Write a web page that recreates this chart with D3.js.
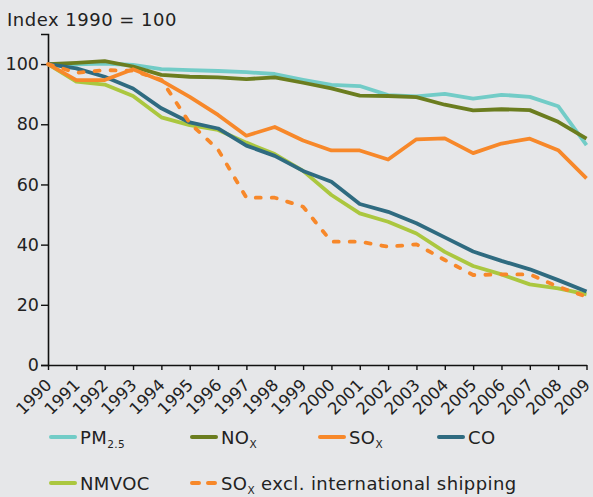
<!DOCTYPE html>
<html>
<head>
<meta charset="utf-8">
<script src="https://cdn.jsdelivr.net/npm/d3@7"></script>
<style>
  body { margin: 0; background: #e6e7e9; }
  svg { display: block; font-family: "DejaVu Sans", Verdana, sans-serif; }
</style>
</head>
<body>
<script>
// years and index values (1990 = 100)
const years = d3.range(1990, 2010);
const pm25  = [100, 99.9, 100.2, 99.7, 98.3, 98.0, 97.7, 97.3, 96.7, 94.8, 93.1, 92.7, 89.7, 89.3, 90.1, 88.5, 89.8, 89.1, 86.0, 73.1];
const nox   = [100, 100.4, 101.0, 99.2, 96.4, 95.8, 95.6, 95.0, 95.6, 93.8, 91.9, 89.5, 89.4, 89.0, 86.5, 84.6, 85.0, 84.7, 80.8, 75.2];
const sox   = [100, 94.7, 94.7, 98.3, 94.5, 89.1, 83.1, 76.2, 79.1, 74.6, 71.3, 71.3, 68.3, 75.0, 75.3, 70.4, 73.6, 75.2, 71.4, 62.0];
const co    = [100, 98.6, 95.8, 91.9, 85.3, 80.6, 78.6, 72.9, 69.5, 64.5, 60.9, 53.5, 50.9, 47.1, 42.4, 37.7, 34.6, 31.8, 28.2, 24.4];
const nmvoc = [100, 94.2, 93.2, 89.4, 82.3, 79.7, 78.1, 73.9, 70.1, 64.5, 56.5, 50.4, 47.6, 43.7, 37.6, 32.9, 30.1, 26.8, 25.5, 23.5];
const soxExShip = [100, 97.1, 98.0, 97.8, 94.8, 80.4, 71.6, 55.6, 55.6, 52.6, 41.0, 41.0, 39.3, 40.1, 34.9, 29.9, 30.1, 30.1, 26.0, 22.7];
const yTicks = [0, 20, 40, 60, 80, 100];

const series = [
  {key: "pm",    values: pm25,      color: "#72ccc7", dash: null},
  {key: "nox",   values: nox,       color: "#6b7d1f", dash: null},
  {key: "nmvoc", values: nmvoc,     color: "#abc73f", dash: null},
  {key: "co",    values: co,        color: "#2f6b80", dash: null},
  {key: "sox",   values: sox,       color: "#f7882a", dash: null},
  {key: "soxx",  values: soxExShip, color: "#f7882a", dash: "5,11"}
];

const w = 593, h = 497;
const svg = d3.select("body").append("svg").attr("width", w).attr("height", h);

svg.append("rect").attr("width", w).attr("height", h).attr("fill", "#e6e7e9");

const x = d3.scaleLinear().domain([1990, 2009]).range([48, 586.5]);
const y = d3.scaleLinear().domain([0, 110]).range([365, 34]);

svg.append("text")
  .attr("x", 7).attr("y", 26)
  .attr("font-size", 18).attr("letter-spacing", 0.5).attr("fill", "#222")
  .text("Index 1990 = 100");

// y axis
const yAxis = svg.append("g")
  .attr("transform", "translate(48,0)")
  .call(d3.axisLeft(y).tickValues(yTicks).tickSize(7).tickPadding(2));
yAxis.select(".domain").attr("stroke", "#111").attr("stroke-width", 1.6);
yAxis.selectAll(".tick line").attr("stroke", "#111").attr("stroke-width", 1.4);
yAxis.selectAll(".tick text")
  .attr("font-size", 17.5).attr("fill", "#222")
  .attr("font-family", "DejaVu Sans, Verdana, sans-serif");

// x axis
const xAxis = svg.append("g")
  .attr("transform", "translate(0,365)")
  .call(d3.axisBottom(x).tickValues(years).tickFormat(d3.format("d")).tickSizeInner(5).tickSizeOuter(0));
xAxis.select(".domain").attr("stroke", "#111").attr("stroke-width", 1.6);
xAxis.selectAll(".tick line").attr("stroke", "#111").attr("stroke-width", 1.4);
xAxis.selectAll(".tick text")
  .attr("font-size", 16.5).attr("fill", "#222")
  .attr("font-family", "DejaVu Sans, Verdana, sans-serif")
  .attr("text-anchor", "end")
  .attr("x", 0).attr("y", 0).attr("dy", "0.35em")
  .attr("transform", "translate(0,17) rotate(-45)");

const line = d3.line()
  .x((d, i) => x(years[i]))
  .y(d => y(d));

svg.selectAll(".series")
  .data(series)
  .enter().append("path")
  .attr("class", "series")
  .attr("d", d => line(d.values))
  .attr("fill", "none")
  .attr("stroke", d => d.color)
  .attr("stroke-width", 3.8)
  .attr("stroke-linejoin", "round")
  .attr("stroke-linecap", d => d.dash ? "round" : "butt")
  .attr("stroke-dasharray", d => d.dash);

// legend
const legendItems = [
  {name: "PM", sub: "2.5", color: "#72ccc7", dash: null, x: 49, y: 437},
  {name: "NO", sub: "X",   color: "#6b7d1f", dash: null, x: 190, y: 437},
  {name: "SO", sub: "X",   color: "#f7882a", dash: null, x: 318, y: 437},
  {name: "CO", sub: "",    color: "#2f6b80", dash: null, x: 437, y: 437},
  {name: "NMVOC", sub: "", color: "#abc73f", dash: null, x: 49, y: 483},
  {name: "SO", sub: "X", rest: " excl. international shipping", color: "#f7882a", dash: "7,9", x: 190, y: 483}
];

const lg = svg.selectAll(".leg").data(legendItems).enter().append("g")
  .attr("class", "leg")
  .attr("transform", d => `translate(${d.x},${d.y})`);

lg.append("line")
  .attr("x1", 2).attr("x2", 26)
  .attr("y1", 0).attr("y2", 0)
  .attr("stroke", d => d.color)
  .attr("stroke-width", 4)
  .attr("stroke-linecap", "round")
  .attr("stroke-dasharray", d => d.dash);

const lt = lg.append("text")
  .attr("x", 31).attr("y", 6.5)
  .attr("font-size", 18).attr("letter-spacing", 0.4).attr("fill", "#222");
lt.append("tspan").text(d => d.name);
lt.append("tspan").attr("font-size", 10.5).attr("dy", 4.5).text(d => d.sub);
lt.append("tspan").attr("dy", -4.5).text(d => d.rest || "");
</script>
</body>
</html>
